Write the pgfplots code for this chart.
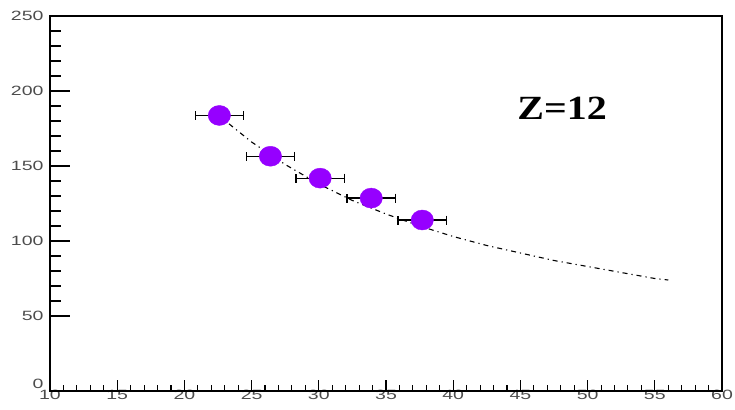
\documentclass[border=0pt]{standalone}
\usepackage{pgfplots}
\pgfplotsset{compat=1.18}
\usepackage{fontspec}
\setmainfont{Liberation Sans}
\newfontfamily\timesfont{Liberation Serif}
\definecolor{violetpt}{RGB}{150,0,255}
\pgfplotsset{common/.style={
  scale only axis,
  width=672bp, height=375bp,
  xmin=10, xmax=60, ymin=0, ymax=250,
  axis line style={line width=1.2bp},
  tick style={line width=1.1bp, black},
  tick align=inside,
  xtick pos=bottom, ytick pos=left,
  every tick label/.append style={font=\fontsize{13.5}{13.5}\selectfont, text=black!70, xscale=1.45},
  xticklabel={\pgfmathprintnumber[assume math mode=true]{\tick}},
  yticklabel={\pgfmathprintnumber[assume math mode=true]{\tick}},
  clip=false,
}}
\begin{document}
\begin{tikzpicture}
\begin{axis}[common,
  xtick={10,15,...,60}, ytick=\empty,
  minor x tick num=4,
  major tick length=11bp, minor tick length=6bp,
  xticklabel style={yshift=4bp},
]
\coordinate (ll) at (rel axis cs:0,0);
\coordinate (ur) at (rel axis cs:1,1);
\addplot[black, line width=1.1bp, dash pattern=on 5bp off 4bp on 1.2bp off 4bp] coordinates {
(22.5,184) (25,166) (27.5,151) (30,138) (32.5,127) (35,118) (37.5,110) (40,103)
(42.5,97) (45,92) (47.5,87) (50,83) (52.5,79) (55,75) (56,74)};
\addplot[only marks, mark=*, mark size=10bp, violetpt,
  mark options={xscale=1.12, draw=violetpt, fill=violetpt},
  error bars/.cd, x dir=both, x explicit,
  error bar style={black, line width=1.3bp},
  error mark options={black, line width=1.3bp, mark size=4.5bp, rotate=90}]
coordinates {
(22.6,183.7) +- (1.8,0)
(26.4,156.5) +- (1.8,0)
(30.1,141.9) +- (1.8,0)
(33.9,128.6) +- (1.8,0)
(37.7,114.0) +- (1.8,0)
};
\node[font=\timesfont\bfseries\fontsize{34}{34}\selectfont, xscale=1.18] at (axis cs:48.1,188.3) {Z=12};
\end{axis}
\begin{axis}[common,
  xtick=\empty, ytick={50,100,...,250},
  extra y ticks={0},
  extra y tick style={yticklabel style={yshift=7bp}},
  minor y tick num=4,
  major tick length=20bp, minor tick length=11bp,
  yticklabel style={xshift=-1bp},
]
\end{axis}
\pgfresetboundingbox
\path[use as bounding box] ([shift={(-50bp,-18bp)}]ll) rectangle ([shift={(13bp,16bp)}]ur);
\end{tikzpicture}
\end{document}
